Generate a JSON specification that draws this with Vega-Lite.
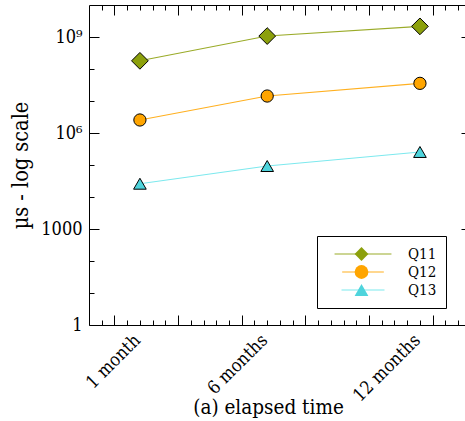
{
  "$schema": "https://vega.github.io/schema/vega-lite/v6.json",
  "width": 376,
  "height": 320,
  "autosize": {"type": "none"},
  "padding": {"left": 89, "top": 5, "right": 0, "bottom": 96},
  "config": {
    "view": {"stroke": null},
    "font": "DejaVu Serif Condensed, DejaVu Serif",
    "axis": {"domainColor": "black", "tickColor": "black", "labelColor": "black", "titleColor": "black", "grid": false, "labelFont": "DejaVu Serif Condensed, DejaVu Serif", "titleFont": "DejaVu Serif Condensed, DejaVu Serif", "titleFontWeight": "normal", "domainWidth": 1, "tickWidth": 1, "labelFlush": false, "labelOverlap": false},
    "legend": {"labelFont": "DejaVu Serif Condensed, DejaVu Serif", "padding": 9, "rowPadding": 0, "gridAlign": "all", "clipHeight": 18}
  },
  "data": {
    "values": [
      {"month": 1, "query": "Q11", "time": 180000000},
      {"month": 6, "query": "Q11", "time": 1070000000},
      {"month": 12, "query": "Q11", "time": 2150000000},
      {"month": 1, "query": "Q12", "time": 2550000},
      {"month": 6, "query": "Q12", "time": 14300000},
      {"month": 12, "query": "Q12", "time": 35600000},
      {"month": 1, "query": "Q13", "time": 26000},
      {"month": 6, "query": "Q13", "time": 93000},
      {"month": 12, "query": "Q13", "time": 255000}
    ]
  },
  "layer": [
    {
      "mark": {"type": "line", "strokeWidth": 1.1},
      "encoding": {
        "x": {"field": "month", "type": "quantitative", "scale": {"domain": [-1, 13.77], "nice": false, "zero": false},
          "axis": {"orient": "bottom", "values": [1, 6, 12], "labelExpr": "datum.value == 1 ? '1 month' : datum.value + ' months'", "labelAngle": -45, "labelFontSize": 18, "labelPadding": 6, "labelOffset": -9, "ticks": false, "domain": true, "title": "(a) elapsed time", "titleFontSize": 20.5, "titleX": 179, "titleY": 88, "titleBaseline": "alphabetic", "titleAlign": "center"}},
        "y": {"field": "time", "type": "quantitative", "scale": {"type": "log", "domain": [1, 10000000000], "nice": false},
          "axis": {"orient": "left", "values": [1, 1000, 1000000, 1000000000], "labelExpr": "datum.value == 1000000000 ? '10⁹' : datum.value == 1000000 ? '10⁶' : datum.value == 1000 ? '1000' : '1'", "ticks": false, "domain": true, "labelFontSize": 18, "labelPadding": 7, "title": "µs - log scale", "titleFontSize": 21.5, "titlePadding": 8}},
        "color": {"field": "query", "type": "nominal", "scale": {"domain": ["Q11", "Q12", "Q13"], "range": ["#9aab28", "#ffb020", "#7de9ee"]},
          "legend": {"orient": "none", "legendX": 228, "legendY": 231, "title": null, "symbolType": "M-3.4,0H3.4", "symbolSize": 280, "symbolStrokeWidth": 1.2, "symbolOffset": 28, "labelOffset": 36, "labelExpr": "datum.label + '  '", "labelFontSize": 15, "labelColor": "black", "padding": 9, "rowPadding": 0, "clipHeight": 18, "strokeColor": "black", "fillColor": "white", "gridAlign": "all"}}
      }
    },
    {
      "mark": {"type": "point", "filled": true, "stroke": "black", "strokeWidth": 1, "opacity": 1},
      "encoding": {
        "x": {"field": "month", "type": "quantitative",
          "axis": {"orient": "bottom", "values": [0, 2.5, 5, 7.5, 10, 12.5], "tickSize": -10, "labels": false, "domain": false, "title": null}},
        "y": {"field": "time", "type": "quantitative",
          "axis": {"orient": "left", "values": [1, 1000, 1000000, 1000000000], "tickSize": -10, "labels": false, "domain": false, "title": null}},
        "fill": {"field": "query", "type": "nominal", "scale": {"range": ["#8ca00c", "#ffa500", "#4ed4dc"]},
          "legend": {"orient": "none", "legendX": 228, "legendY": 231, "title": null, "symbolSize": 190, "symbolOffset": 28, "labelOffset": 36, "labelExpr": "' '", "labelFontSize": 15, "padding": 9, "rowPadding": 0, "clipHeight": 18, "symbolStrokeColor": "black", "symbolStrokeWidth": 1, "gridAlign": "all"}},
        "shape": {"field": "query", "type": "nominal", "scale": {"range": ["diamond", "circle", "triangle-up"]},
          "legend": {"orient": "none", "legendX": 228, "legendY": 231, "title": null, "symbolSize": 190, "symbolOffset": 28, "labelOffset": 36, "labelExpr": "' '", "labelFontSize": 15, "padding": 9, "rowPadding": 0, "clipHeight": 18, "symbolStrokeColor": "black", "symbolStrokeWidth": 1, "gridAlign": "all"}},
        "size": {"field": "query", "type": "nominal", "scale": {"type": "ordinal", "domain": ["Q11", "Q12", "Q13"], "range": [280, 150, 160]}, "legend": null}
      }
    },
    {
      "mark": {"type": "point", "opacity": 0},
      "encoding": {
        "x": {"field": "month", "type": "quantitative",
          "axis": {"orient": "bottom", "values": [-0.5, 0.5, 1, 1.5, 2, 3, 3.5, 4, 4.5, 5.5, 6, 6.5, 7, 8, 8.5, 9, 9.5, 10.5, 11, 11.5, 12, 13, 13.5], "tickSize": -5, "labels": false, "domain": false, "title": null}},
        "y": {"field": "time", "type": "quantitative",
          "axis": {"orient": "left", "values": [10, 100, 10000, 100000, 10000000, 100000000], "tickSize": -5, "labels": false, "domain": false, "title": null}}
      }
    },
    {
      "mark": {"type": "point", "opacity": 0},
      "encoding": {
        "x": {"field": "month", "type": "quantitative",
          "axis": {"orient": "top", "values": [0, 2.5, 5, 7.5, 10, 12.5], "tickSize": -10, "labels": false, "domain": true, "title": null}},
        "y": {"field": "time", "type": "quantitative",
          "axis": {"orient": "right", "values": [1, 1000, 1000000, 1000000000], "tickSize": -10, "offset": 6, "labels": false, "domain": true, "title": null}}
      }
    },
    {
      "mark": {"type": "point", "opacity": 0},
      "encoding": {
        "x": {"field": "month", "type": "quantitative",
          "axis": {"orient": "top", "values": [-0.5, 0.5, 1, 1.5, 2, 3, 3.5, 4, 4.5, 5.5, 6, 6.5, 7, 8, 8.5, 9, 9.5, 10.5, 11, 11.5, 12, 13, 13.5], "tickSize": -5, "labels": false, "domain": false, "title": null}},
        "y": {"field": "time", "type": "quantitative", "axis": null}
      }
    }
  ],
  "resolve": {"axis": {"x": "independent", "y": "independent"}}
}
